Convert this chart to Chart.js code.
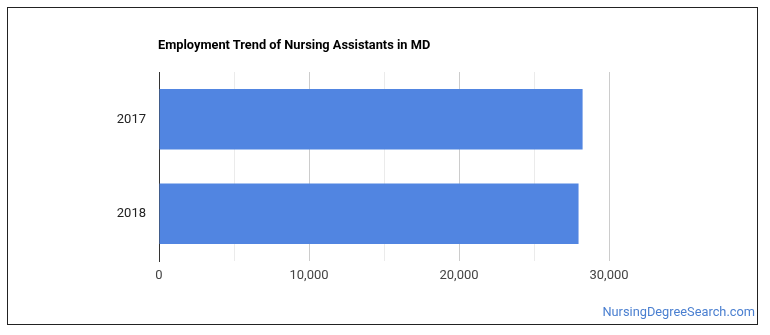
<!DOCTYPE html>
<html>
<head>
<meta charset="utf-8">
<script src="https://cdn.jsdelivr.net/npm/chart.js@4.4.0/dist/chart.umd.min.js"></script>
<style>
  html, body { margin: 0; padding: 0; background: #fff; }
  #wrap { position: relative; width: 770px; height: 335px; }
  #frame { position: absolute; left: 7px; top: 7px; width: 749px; height: 316px; border: 1px solid #222; box-sizing: content-box; }
  #title { position: absolute; left: 158px; top: 37px; font: bold 12.8px Roboto, Arial, sans-serif; color: #000; white-space: nowrap; }
  #brand { position: absolute; right: 15px; top: 304px; font: 12.8px Roboto, Arial, sans-serif; color: #4a7fd0; white-space: nowrap; }
  canvas { position: absolute; left: 0; top: 0; }
</style>
</head>
<body>
<div id="wrap">
  <canvas id="c" width="770" height="335"></canvas>
  <div id="frame"></div>
  <div id="title">Employment Trend of Nursing Assistants in MD</div>
  <div id="brand">NursingDegreeSearch.com</div>
</div>
<script>
const categories = ["2017", "2018"];
const employment = [28240, 27970];
const xTickValues = [0, 10000, 20000, 30000];

const ctx = document.getElementById('c');
new Chart(ctx, {
  type: 'bar',
  data: {
    labels: categories,
    datasets: [{
      data: employment,
      backgroundColor: '#5185e1',
      borderWidth: 0,
      barPercentage: 0.638,
      categoryPercentage: 1.0
    }]
  },
  options: {
    indexAxis: 'y',
    responsive: false,
    animation: false,
    devicePixelRatio: 1,
    layout: { padding: { left: 0, right: 161, top: 72, bottom: 0 } },
    plugins: { legend: { display: false }, title: { display: false }, tooltip: { enabled: false } },
    scales: {
      x: {
        min: 0,
        max: 30000,
        ticks: {
          stepSize: 5000,
          padding: 7,
          color: '#444',
          font: { family: 'Roboto', size: 13 },
          callback: (v) => xTickValues.includes(v) ? v.toLocaleString('en-US') : ''
        },
        grid: {
          drawTicks: false,
          color: (c) => {
            const v = c.tick ? c.tick.value : 0;
            if (v === 0) return '#333';
            return v % 10000 === 0 ? '#cccccc' : '#ebebeb';
          }
        },
        border: { display: false },
        afterFit: (s) => { s.height = 74; }
      },
      y: {
        ticks: {
          padding: 13,
          color: '#222',
          font: { family: 'Roboto', size: 13 }
        },
        grid: { display: false, drawTicks: false },
        border: { display: true, color: '#333', width: 1 },
        afterFit: (s) => { s.width = 159; }
      }
    }
  }
});
</script>
</body>
</html>
